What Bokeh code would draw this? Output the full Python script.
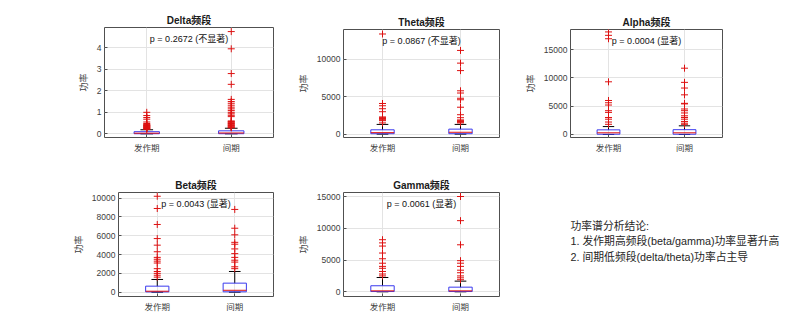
from bokeh.plotting import figure
from bokeh.layouts import row, column
from bokeh.models import ColumnDataSource, FixedTicker, Range1d, Label, CustomJSTickFormatter, BasicTickFormatter
from bokeh.embed import file_html
from bokeh.resources import INLINE

# ---------------- data ----------------
categories = ["发作期", "间期"]
cat_pos = [1, 2]
bands = ["Delta", "Theta", "Alpha", "Beta", "Gamma"]
p_values = [0.2672, 0.0867, 0.0004, 0.0043, 0.0061]
significance = ["不显著", "不显著", "显著", "显著", "显著"]

# box statistics per band: [发作期, 间期]
delta_q1 = [50, 60]
delta_median = [300, 400]
delta_q3 = [1000, 1400]
delta_whisker_lo = [0, 0]
delta_whisker_hi = [1900, 2600]
delta_out_ictal = [10000, 8500, 7600, 6800, 5500, 4800, 4300, 4100, 3900, 3700, 3500, 3300,
                   3100, 2900, 2700, 2500, 2300, 2100]
delta_out_inter = [47500, 39500, 28000, 23000, 16000, 15000, 14200, 13300, 12400, 11600, 10800,
                   10000, 9300, 8600, 8000, 6000, 5700, 5400, 5100, 4800, 4500, 4200, 3900,
                   3600, 3300, 3000, 2800]

theta_q1 = [60, 60]
theta_median = [200, 250]
theta_q3 = [580, 670]
theta_whisker_lo = [0, 0]
theta_whisker_hi = [1300, 1300]
theta_out_ictal = [13400, 4100, 3800, 3400, 3000, 2300, 2200, 2100, 2000, 1900, 1800, 1500]
theta_out_inter = [11200, 9500, 8500, 5800, 5500, 4800, 4600, 3600, 2600, 2200, 1900, 1800,
                   1700, 1600, 1500]

alpha_q1 = [50, 50]
alpha_median = [300, 300]
alpha_q3 = [820, 850]
alpha_whisker_lo = [0, 0]
alpha_whisker_hi = [1400, 1530]
alpha_out_ictal = [18100, 17500, 16900, 9300, 6000, 5600, 5200, 4200, 3900, 3000, 2700, 2200, 1800]
alpha_out_inter = [11700, 9200, 8200, 7000, 5500, 5400, 4500, 4200, 3800, 3300, 3000, 2700,
                   2300, 2000, 1800]

beta_q1 = [30, 40]
beta_median = [100, 200]
beta_q3 = [640, 960]
beta_whisker_lo = [0, 0]
beta_whisker_hi = [1350, 2200]
beta_out_ictal = [10200, 8900, 7200, 5700, 5000, 4300, 3700, 3500, 3300, 3100, 2500, 2200,
                  2000, 1800, 1600]
beta_out_inter = [8800, 6800, 6100, 5300, 5100, 4600, 4100, 3700, 3400, 3200, 2700, 2500]

gamma_q1 = [40, 40]
gamma_median = [150, 150]
gamma_q3 = [950, 730]
gamma_whisker_lo = [0, 0]
gamma_whisker_hi = [2250, 1680]
gamma_out_ictal = [8200, 7700, 7200, 6100, 5200, 4500, 4000, 3700, 3200, 2800, 2500]
gamma_out_inter = [15000, 11200, 7400, 4900, 4500, 4000, 3400, 3000, 2500, 2200, 1900]

delta_ticks = [0, 10000, 20000, 30000, 40000]
theta_ticks = [0, 5000, 10000]
alpha_ticks = [0, 5000, 10000, 15000]
beta_ticks = [0, 2000, 4000, 6000, 8000, 10000]
gamma_ticks = [0, 5000, 10000, 15000]

delta_ylim = [-1700, 49400]
theta_ylim = [-450, 14000]
alpha_ylim = [-530, 18530]
beta_ylim = [-460, 10600]
gamma_ylim = [-740, 15630]

y_label = "功率"
conclusion_lines = ["功率谱分析结论:",
                    "1. 发作期高频段(beta/gamma)功率显著升高",
                    "2. 间期低频段(delta/theta)功率占主导"]

# ---------------- styling ----------------
LAT = "'Liberation Sans', 'Noto Sans CJK SC', sans-serif"
CJK = "'Noto Sans CJK SC', sans-serif"
AX_COL = "#404040"
BOX_W = 0.3
CAP_W = 0.15


def make_panel(band, q1, med, q3, wlo, whi, out_a, out_b, ticks, ylim, pval, sig,
               width, height, bl, br, bt, bb, sci=False):
    p = figure(width=width, height=height, x_range=Range1d(0.5, 2.5),
               y_range=Range1d(ylim[0], ylim[1]), output_backend="svg",
               toolbar_location=None, min_border_left=bl, min_border_right=br,
               min_border_top=bt, min_border_bottom=bb, title=band + "频段")
    p.background_fill_color = "white"
    p.border_fill_color = "white"
    p.outline_line_color = "#505050"
    p.outline_line_width = 1
    p.title.align = "center"
    p.title.text_font = LAT
    p.title.text_font_size = "10px"
    p.title.text_font_style = "bold"
    p.title.text_color = "#1a1a1a"
    p.title.standoff = 3

    p.xaxis.ticker = FixedTicker(ticks=cat_pos)
    p.xaxis.major_label_overrides = {c: lab for c, lab in zip(cat_pos, categories)}
    p.yaxis.ticker = FixedTicker(ticks=ticks)
    if sci:
        p.yaxis.formatter = CustomJSTickFormatter(code="return (tick/10000).toString();")
    else:
        p.yaxis.formatter = BasicTickFormatter(use_scientific=False)
    for ax in (p.xaxis[0], p.yaxis[0]):
        ax.axis_line_color = None
        ax.major_tick_in = 3
        ax.major_tick_out = 0
        ax.minor_tick_line_color = None
        ax.major_tick_line_color = "#505050"
        ax.major_label_text_color = AX_COL
        ax.major_label_text_font_size = "8.5px"
        ax.major_label_standoff = 3
    p.xaxis.major_label_text_font = CJK
    p.xaxis.major_label_standoff = 3
    p.yaxis.major_label_text_font = LAT
    p.yaxis.axis_label = y_label
    p.yaxis.axis_label_text_font = CJK
    p.yaxis.axis_label_text_font_size = "9px"
    p.yaxis.axis_label_text_font_style = "normal"
    p.yaxis.axis_label_text_color = AX_COL
    p.yaxis.axis_label_standoff = 4

    p.grid.grid_line_color = "#e3e3e3"
    p.xgrid.ticker = FixedTicker(ticks=cat_pos)
    p.ygrid.ticker = FixedTicker(ticks=ticks)

    src = ColumnDataSource(dict(
        x=cat_pos, q1=q1, med=med, q3=q3, wlo=wlo, whi=whi,
        left=[c - BOX_W / 2 for c in cat_pos], right=[c + BOX_W / 2 for c in cat_pos],
        cl=[c - CAP_W / 2 for c in cat_pos], cr=[c + CAP_W / 2 for c in cat_pos]))
    # whiskers
    p.segment(x0="x", y0="q3", x1="x", y1="whi", source=src, line_color="black", line_width=1)
    p.segment(x0="x", y0="q1", x1="x", y1="wlo", source=src, line_color="black", line_width=1)
    p.segment(x0="cl", y0="whi", x1="cr", y1="whi", source=src, line_color="black", line_width=1)
    p.segment(x0="cl", y0="wlo", x1="cr", y1="wlo", source=src, line_color="black", line_width=1)
    # boxes
    p.quad(left="left", right="right", bottom="q1", top="q3", source=src,
           fill_color=None, line_color="#3a3aee", line_width=1)
    p.segment(x0="left", y0="med", x1="right", y1="med", source=src,
              line_color="#e01010", line_width=1)
    # outliers
    ox = [cat_pos[0]] * len(out_a) + [cat_pos[1]] * len(out_b)
    oy = list(out_a) + list(out_b)
    p.scatter(ox, oy, marker="cross", size=7, line_color="#dd1111", line_width=1)

    p.add_layout(Label(x=1.5, y=ylim[1], y_offset=-11, text="p = %.4f (%s)" % (pval, sig),
                       text_align="center", text_baseline="middle", text_font=LAT,
                       text_font_size="9px", text_color="#111111"))
    if sci:
        p.add_layout(Label(x=0.5, y=ylim[1], y_offset=1, text="×10⁴", text_align="left",
                           text_baseline="bottom", text_font=LAT, text_font_size="8px",
                           text_color=AX_COL))
    return p


H1, H2 = 165, 168
p_delta = make_panel(bands[0], delta_q1, delta_median, delta_q3, delta_whisker_lo, delta_whisker_hi,
                     delta_out_ictal, delta_out_inter, delta_ticks, delta_ylim, p_values[0],
                     significance[0], 290, H1, 104, 17, 27, 28, sci=True)
p_theta = make_panel(bands[1], theta_q1, theta_median, theta_q3, theta_whisker_lo, theta_whisker_hi,
                     theta_out_ictal, theta_out_inter, theta_ticks, theta_ylim, p_values[1],
                     significance[1], 230, H1, 53, 21, 29, 28)
p_alpha = make_panel(bands[2], alpha_q1, alpha_median, alpha_q3, alpha_whisker_lo, alpha_whisker_hi,
                     alpha_out_ictal, alpha_out_inter, alpha_ticks, alpha_ylim, p_values[2],
                     significance[2], 280, H1, 48, 78, 29, 28)
p_beta = make_panel(bands[3], beta_q1, beta_median, beta_q3, beta_whisker_lo, beta_whisker_hi,
                    beta_out_ictal, beta_out_inter, beta_ticks, beta_ylim, p_values[3],
                    significance[3], 290, H2, 118, 17, 27, 37)
p_gamma = make_panel(bands[4], gamma_q1, gamma_median, gamma_q3, gamma_whisker_lo, gamma_whisker_hi,
                     gamma_out_ictal, gamma_out_inter, gamma_ticks, gamma_ylim, p_values[4],
                     significance[4], 230, H2, 53, 21, 27, 37)

# text panel: frame occupies y 192..296 (same borders as its row neighbours)
p_text = figure(width=280, height=H2, x_range=Range1d(0, 280), y_range=Range1d(104, 0),
                output_backend="svg", toolbar_location=None, x_axis_location=None,
                y_axis_location=None, min_border_left=0, min_border_right=0,
                min_border_top=27, min_border_bottom=37)
p_text.outline_line_color = None
p_text.grid.visible = False
p_text.background_fill_color = "white"
p_text.border_fill_color = "white"
for i, line in enumerate(conclusion_lines):
    p_text.add_layout(Label(x=50, y=33 + 15.5 * i, text=line, text_align="left",
                            text_baseline="middle", text_font=LAT, text_font_size="10.8px",
                            text_color="#262626"))

layout = column(row(column(p_delta), column(p_theta), column(p_alpha)),
                row(p_beta, p_gamma, p_text))

with open("out.html", "w") as f:
    f.write(file_html(layout, INLINE))
